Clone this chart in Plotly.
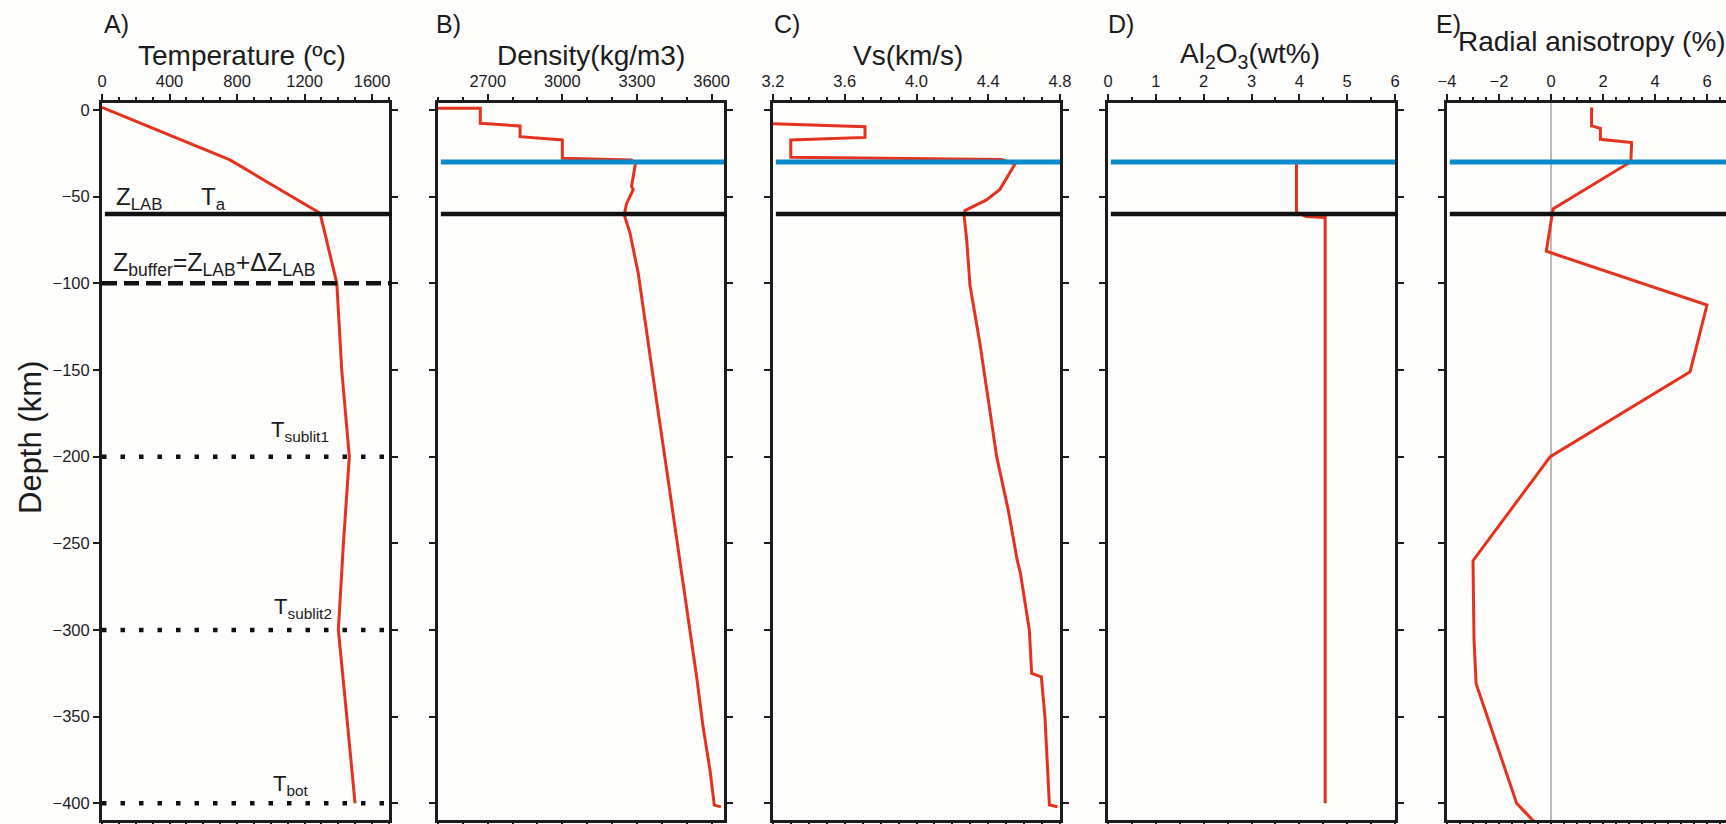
import plotly.graph_objects as go

W, H = 1726, 824

# ---- profile data (depth in km, negative downward) ----
temp_depth = [1.5, -9.2, -28.8, -59.6, -100, -150, -200, -250, -300, -350, -400]
temp_c = [0, 265, 758, 1292, 1391, 1420, 1465, 1430, 1400, 1450, 1499]

dens_depth = [1, 1, -7.7, -9.2, -15.4, -17.3, -27.9, -28.8, -31, -44, -46, -54, -60.5,
              -71, -94, -135, -167, -206, -250, -277, -300, -321, -327, -356, -381, -401, -402]
dens = [2500, 2670, 2670, 2830, 2830, 3000, 3000, 3278, 3294, 3278, 3285, 3258, 3249,
        3272, 3305, 3345, 3378, 3418, 3462, 3490, 3513, 3531, 3540, 3566, 3594, 3611, 3638]

vs_depth = [-8, -9.6, -15.8, -17.3, -27.3, -28.5, -31.2, -45.8, -51.9, -58, -60.6, -75, -101,
            -135, -167, -200, -231, -260, -267, -288, -300, -325, -327, -350, -401, -402]
vs = [3.2, 3.713, 3.713, 3.299, 3.299, 4.475, 4.549, 4.465, 4.39, 4.27, 4.265, 4.28, 4.298,
      4.354, 4.40, 4.447, 4.512, 4.562, 4.579, 4.612, 4.629, 4.642, 4.696, 4.716, 4.741, 4.786]

al_depth = [-30, -59, -61.5, -62, -400]
al2o3 = [3.94, 3.94, 4.14, 4.54, 4.54]

ra_depth = [1.5, -9.2, -10.6, -16.9, -18.8, -29.8, -57, -60.5, -81.5, -112.5, -151, -200,
            -260, -306, -331, -400, -410]
ra = [1.56, 1.56, 1.9, 1.9, 3.1, 3.07, 0.09, 0.04, -0.18, 6.0, 5.35, -0.03,
      -3.0, -2.96, -2.88, -1.32, -0.68]

# ---- interface depths ----
moho_depth = -30
lab_depth = -60
buffer_depth = -100
sublit_depths = [-200, -300, -400]

# ---- panel definitions ----
panel_titles = ["Temperature (ºc)", "Density(kg/m3)", "Vs(km/s)",
                "Al<sub>2</sub>O<sub>3</sub>(wt%)", "Radial anisotropy (%)"]
panel_letters = ["A)", "B)", "C)", "D)", "E)"]
x_ranges = [[0, 1700], [2500, 3650], [3.2, 4.8], [0, 6], [-4, 6.73]]
x_tick0 = [0, 2700, 3.2, 0, -4]
x_dtick = [400, 300, 0.4, 1, 2]
x_minor = [100, 100, 0.1, 0.5, 0.5]
x_fmt = ["", "", ".1f", "", ""]
y_range = [-409.6, 4.04]

# pixel layout of the five frames
frame_left = [102, 438, 773, 1108, 1447]
frame_right = [389, 724, 1060, 1395, 1726]
frame_top, frame_bottom = 103, 820

RED = "#e4321e"
BLUE = "#0a8bcb"
INK = "#1c1c1c"
FONT = "Liberation Sans, Arial, sans-serif"


def px(x, y):
    return x / W, 1 - y / H


fig = go.Figure()

profiles = [(temp_c, temp_depth), (dens, dens_depth), (vs, vs_depth),
            (al2o3, al_depth), (ra, ra_depth)]

layout = {}
for i in range(5):
    n = "" if i == 0 else str(i + 1)
    xs, ys = profiles[i]
    fig.add_trace(go.Scatter(x=xs, y=ys, mode="lines", xaxis="x" + n, yaxis="y" + n,
                             line=dict(color=RED, width=3), showlegend=False,
                             hoverinfo="skip"))
    layout["xaxis" + n] = dict(
        domain=[frame_left[i] / W, frame_right[i] / W], range=x_ranges[i],
        anchor="y" + n, side="top", showline=True, linecolor=INK, linewidth=3,
        mirror="allticks", ticks="outside", ticklen=6, tickwidth=2, tickcolor=INK,
        tick0=x_tick0[i], dtick=x_dtick[i], tickformat=x_fmt[i],
        tickfont=dict(size=16.5, color=INK, family=FONT), automargin=False,
        showgrid=False, zeroline=False, fixedrange=True,
        minor=dict(ticks="outside", ticklen=3, tickwidth=1.5, tickcolor=INK,
                   dtick=x_minor[i], tick0=x_tick0[i], showgrid=False),
    )
    layout["yaxis" + n] = dict(
        domain=[1 - frame_bottom / H, 1 - frame_top / H], range=y_range,
        anchor="x" + n, showline=True, linecolor=INK, linewidth=3,
        mirror=("allticks" if i < 4 else False), ticks="outside", ticklen=6,
        tickwidth=2, tickcolor=INK, tick0=0, dtick=50, automargin=False,
        showticklabels=(i == 0), tickfont=dict(size=16.5, color=INK, family=FONT),
        showgrid=False, zeroline=False, fixedrange=True,
    )

shapes = []
# zero line of the anisotropy panel
shapes.append(dict(type="line", xref="x5", yref="y5 domain", x0=0, x1=0, y0=0, y1=1,
                   line=dict(color="#777777", width=1), layer="below"))
# Moho (blue) in panels B-E, LAB (black) in all panels
for i in range(1, 5):
    n = str(i + 1)
    shapes.append(dict(type="line", xref="x" + n + " domain", yref="y" + n,
                       x0=0.01, x1=1.0, y0=moho_depth, y1=moho_depth,
                       line=dict(color=BLUE, width=5)))
for i in range(5):
    n = "" if i == 0 else str(i + 1)
    shapes.append(dict(type="line", xref="x" + n + " domain", yref="y" + n,
                       x0=0.01, x1=1.01 if i < 4 else 1.0, y0=lab_depth, y1=lab_depth,
                       line=dict(color="#111111", width=4.5)))
# buffer and sub-lithospheric reference levels in panel A
shapes.append(dict(type="line", xref="x domain", yref="y", x0=0, x1=1.01,
                   y0=buffer_depth, y1=buffer_depth,
                   line=dict(color="#111111", width=4.5, dash="15px,7px")))
for d in sublit_depths:
    shapes.append(dict(type="line", xref="x domain", yref="y", x0=0.0, x1=1.01,
                       y0=d, y1=d,
                       line=dict(color="#111111", width=4.5, dash="4.5px,14px")))

annotations = []
title_pos = [(242, 56), (591, 55), (908, 55), (1250, 55), (1592, 41)]
for i in range(5):
    x, y = px(*title_pos[i])
    annotations.append(dict(text=panel_titles[i], x=x, y=y, xref="paper", yref="paper",
                            xanchor="center", yanchor="middle", showarrow=False,
                            font=dict(size=28, color=INK, family=FONT)))
letter_left = [102, 434, 772, 1106, 1434]
for i in range(5):
    x, y = px(letter_left[i], 24)
    annotations.append(dict(text=panel_letters[i], x=x, y=y, xref="paper", yref="paper",
                            xanchor="left", yanchor="middle", showarrow=False,
                            font=dict(size=25, color=INK, family=FONT)))

x, y = px(30, 438)
annotations.append(dict(text="Depth (km)", x=x, y=y, xref="paper", yref="paper",
                        textangle=-90, xanchor="center", yanchor="middle",
                        showarrow=False, font=dict(size=31, color=INK, family=FONT)))

labels_a = [
    ("Z<sub>LAB</sub>", 114, 199, 24),
    ("T<sub>a</sub>", 199, 199, 24),
    ("Z<sub>buffer</sub>=Z<sub>LAB</sub>+ΔZ<sub>LAB</sub>", 111, 264, 25),
    ("T<sub>sublit1</sub>", 269, 431, 22),
    ("T<sub>sublit2</sub>", 272, 608, 22),
    ("T<sub>bot</sub>", 271, 785, 22),
]
for txt, lx, ly, fs in labels_a:
    x, y = px(lx, ly)
    annotations.append(dict(text=txt, x=x, y=y, xref="paper", yref="paper",
                            xanchor="left", yanchor="middle", showarrow=False,
                            font=dict(size=fs, color=INK, family=FONT)))

fig.update_layout(
    width=W, height=H, autosize=False,
    margin=dict(l=0, r=0, t=0, b=0, pad=0, autoexpand=False),
    paper_bgcolor="#fdfdfc", plot_bgcolor="#fdfdfc",
    shapes=shapes, annotations=annotations, showlegend=False,
    font=dict(family=FONT, color=INK), **layout,
)

fig.write_html("out.html", config={"displayModeBar": False})
